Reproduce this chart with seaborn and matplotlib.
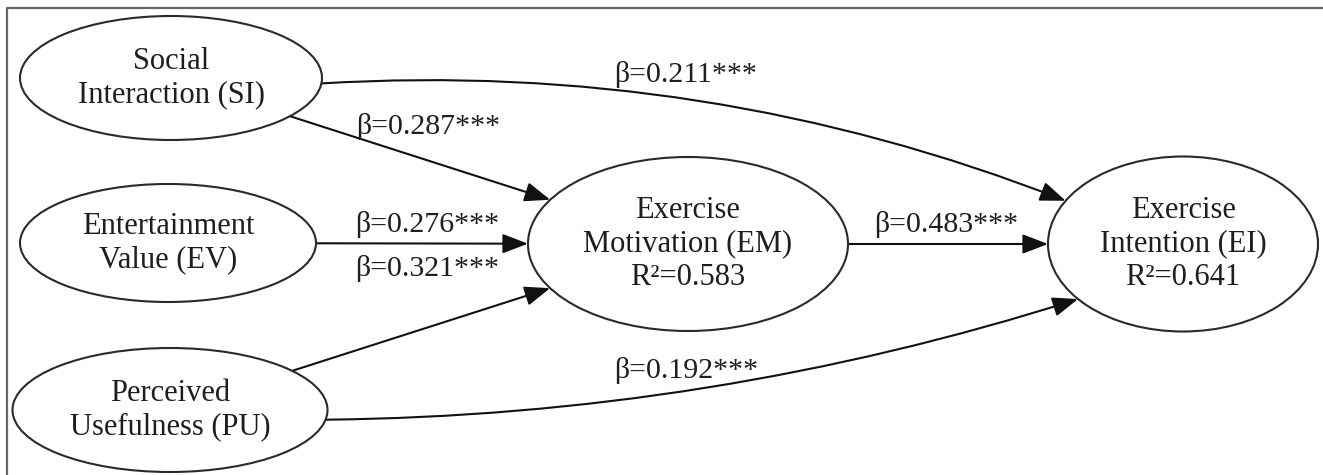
import numpy as np
import matplotlib.pyplot as plt
import seaborn as sns
from matplotlib.patches import Ellipse, FancyArrowPatch

# model content
node_ids = ["SI", "EV", "PU", "EM", "EI"]
node_labels = ["Social\nInteraction (SI)", "Entertainment\nValue (EV)",
               "Perceived\nUsefulness (PU)", "Exercise\nMotivation (EM)",
               "Exercise\nIntention (EI)"]
r_squared = [None, None, None, 0.583, 0.641]

path_from = ["SI", "EV", "PU", "SI", "PU", "EM"]
path_to = ["EM", "EM", "EM", "EI", "EI", "EI"]
betas = [0.287, 0.276, 0.321, 0.211, 0.192, 0.483]
stars = ["***", "***", "***", "***", "***", "***"]

# layout (pixel space, y down)
centers = {"SI": (171, 78), "EV": (168, 243), "PU": (170, 410),
           "EM": (688, 244), "EI": (1183, 244)}
sizes = {"SI": (302, 124), "EV": (296, 118), "PU": (315, 124),
         "EM": (320, 174), "EI": (270, 175)}
# curved paths: (start angle, end angle, rad)
curves = {("SI", "EI"): (5, 209.6, -0.11), ("PU", "EI"): (9, 141, 0.075)}
label_pos = {("SI", "EM"): (428, 127), ("EV", "EM"): (427, 224),
             ("PU", "EM"): (427, 268), ("SI", "EI"): (686, 75),
             ("PU", "EI"): (686, 370), ("EM", "EI"): (946, 224)}

sns.set_theme(style="white")
plt.rcParams["font.family"] = ["Liberation Serif", "DejaVu Serif"]
ink = "#1e1e1e"


def on_edge(n, toward):
    cx, cy = centers[n]
    a, b = sizes[n][0] / 2, sizes[n][1] / 2
    dx, dy = toward[0] - cx, toward[1] - cy
    t = 1 / np.sqrt((dx / a) ** 2 + (dy / b) ** 2)
    return cx + t * dx, cy + t * dy


def at_angle(n, deg):
    cx, cy = centers[n]
    a, b = sizes[n][0] / 2, sizes[n][1] / 2
    th = np.radians(deg)
    return cx + a * np.cos(th), cy + b * np.sin(th)


fig = plt.figure(figsize=(13.23, 4.75), dpi=100)
ax = fig.add_axes([0, 0, 1, 1])
ax.set_xlim(0, 1323)
ax.set_ylim(475, 0)
ax.axis("off")

# frame
ax.plot([7, 7, 1323], [475, 7.5, 7.5], color="#666666", lw=1.6)

for n, lab, r2 in zip(node_ids, node_labels, r_squared):
    w, h = sizes[n]
    ax.add_patch(Ellipse(centers[n], w, h, facecolor="white",
                         edgecolor="#2a2a2a", lw=1.5, zorder=2))
    txt = lab if r2 is None else f"{lab}\nR²={r2:.3f}"
    ax.text(*centers[n], txt, ha="center", va="center", fontsize=22,
            color=ink, linespacing=1.22, zorder=3)

for src, dst, b, s in zip(path_from, path_to, betas, stars):
    key = (src, dst)
    if key in curves:
        a0, a1, rad = curves[key]
        p0, p1 = at_angle(src, a0), at_angle(dst, a1)
        style = f"arc3,rad={rad}"
    else:
        p0 = on_edge(src, centers[dst])
        p1 = on_edge(dst, centers[src])
        style = "arc3,rad=0"
    ax.add_patch(FancyArrowPatch(p0, p1, connectionstyle=style,
                                 arrowstyle="-|>,head_length=0.6,head_width=0.23",
                                 mutation_scale=26, color="#111111", lw=1.5,
                                 shrinkA=0, shrinkB=0, zorder=1))
    ax.text(*label_pos[key], f"β={b:.3f}{s}", ha="center", va="center",
            fontsize=21.5, color=ink, zorder=3)

fig.savefig("out.png", dpi=100, facecolor="white")
